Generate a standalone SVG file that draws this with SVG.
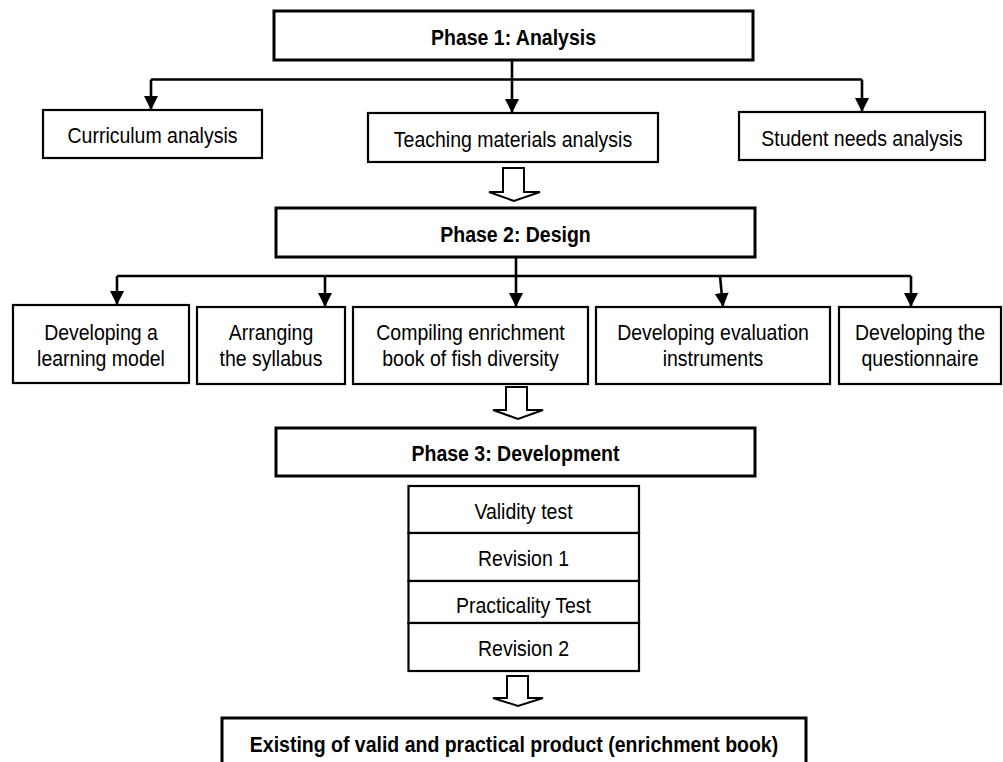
<svg xmlns="http://www.w3.org/2000/svg" width="1003" height="762" viewBox="0 0 1003 762">
<defs>
<style>
.phase{fill:#fff;stroke:#000;stroke-width:3}
.box{fill:#fff;stroke:#000;stroke-width:2.2}
.t{font-family:"Liberation Sans",Arial,sans-serif;font-size:19.5px;fill:#000;text-anchor:middle}
.b{font-weight:bold}
.line{fill:none;stroke:#000;stroke-width:2.6}
.hollow{fill:#fff;stroke:#000;stroke-width:2}
</style>
<marker id="ah" markerWidth="14" markerHeight="14" viewBox="0 0 14 14" refX="14" refY="7" orient="auto" markerUnits="userSpaceOnUse">
<path d="M0,0 L14,7 L0,14 Z" fill="#000"/>
</marker>
</defs>
<rect width="1003" height="762" fill="#fff"/>
<g id="connectors">
<path class="line" d="M512,60 V113" marker-end="url(#ah)"/>
<path class="line" d="M151,79.5 H862"/>
<path class="line" d="M151,79.5 V110" marker-end="url(#ah)"/>
<path class="line" d="M862,79.5 V112" marker-end="url(#ah)"/>
<polygon class="hollow" points="503,168 524,168 524,192 540,192 514,201 489,192 503,192"/>
<path class="line" d="M516,257 V307" marker-end="url(#ah)"/>
<path class="line" d="M117,276 H911"/>
<path class="line" d="M117,276 V305" marker-end="url(#ah)"/>
<path class="line" d="M325,276 V307" marker-end="url(#ah)"/>
<path class="line" d="M720,276 L723,307" marker-end="url(#ah)"/>
<path class="line" d="M911,276 V307" marker-end="url(#ah)"/>
<polygon class="hollow" points="506,387 527,387 527,410 543,410 518,419 493,410 506,410"/>
<polygon class="hollow" points="507,676 528,676 528,698 543,698 518,706 493,698 507,698"/>
</g>
<g id="phase1">
<rect class="phase" x="274" y="11" width="479" height="49"/>
<text class="t b" transform="translate(513.5,45) scale(1,1.12)">Phase 1: Analysis</text>
</g>
<g id="curriculum">
<rect class="box" x="43" y="110" width="219" height="48"/>
<text class="t" transform="translate(152.5,143) scale(1,1.12)">Curriculum analysis</text>
</g>
<g id="teaching">
<rect class="box" x="368" y="113" width="290" height="49"/>
<text class="t" transform="translate(513,147) scale(1,1.12)">Teaching materials analysis</text>
</g>
<g id="student">
<rect class="box" x="739" y="112" width="246" height="48"/>
<text class="t" transform="translate(862,145.5) scale(1,1.12)">Student needs analysis</text>
</g>
<g id="phase2">
<rect class="phase" x="276" y="208" width="479" height="49"/>
<text class="t b" transform="translate(515.5,241.5) scale(1,1.12)">Phase 2: Design</text>
</g>
<g id="learning-model">
<rect class="box" x="13" y="305" width="176" height="78"/>
<text class="t" transform="translate(101,339.5) scale(1,1.12)">Developing a</text>
<text class="t" transform="translate(101,366) scale(1,1.12)">learning model</text>
</g>
<g id="syllabus">
<rect class="box" x="197" y="307" width="148" height="77"/>
<text class="t" transform="translate(271,339.5) scale(1,1.12)">Arranging</text>
<text class="t" transform="translate(271,366) scale(1,1.12)">the syllabus</text>
</g>
<g id="enrichment">
<rect class="box" x="353" y="307" width="235" height="77"/>
<text class="t" transform="translate(470.5,339.5) scale(1,1.12)">Compiling enrichment</text>
<text class="t" transform="translate(470.5,366) scale(1,1.12)">book of fish diversity</text>
</g>
<g id="evaluation">
<rect class="box" x="596" y="307" width="234" height="77"/>
<text class="t" transform="translate(713,339.5) scale(1,1.12)">Developing evaluation</text>
<text class="t" transform="translate(713,366) scale(1,1.12)">instruments</text>
</g>
<g id="questionnaire">
<rect class="box" x="839" y="307" width="162" height="77"/>
<text class="t" transform="translate(920,339.5) scale(1,1.12)">Developing the</text>
<text class="t" transform="translate(920,366) scale(1,1.12)">questionnaire</text>
</g>
<g id="phase3">
<rect class="phase" x="276" y="428" width="479" height="48"/>
<text class="t b" transform="translate(515.5,461) scale(1,1.12)">Phase 3: Development</text>
</g>
<g id="validity">
<rect class="box" x="408.5" y="486" width="230.5" height="47"/>
<text class="t" transform="translate(523.5,518.5) scale(1,1.12)">Validity test</text>
</g>
<g id="revision1">
<rect class="box" x="408.5" y="533" width="230.5" height="48"/>
<text class="t" transform="translate(523.5,566) scale(1,1.12)">Revision 1</text>
</g>
<g id="practicality">
<rect class="box" x="408.5" y="581" width="230.5" height="42"/>
<text class="t" transform="translate(523.5,613) scale(1,1.12)">Practicality Test</text>
</g>
<g id="revision2">
<rect class="box" x="408.5" y="623" width="230.5" height="48"/>
<text class="t" transform="translate(523.5,656) scale(1,1.12)">Revision 2</text>
</g>
<g id="product">
<rect class="phase" x="222" y="718" width="584" height="60"/>
<text class="t b" transform="translate(514,752) scale(1,1.12)">Existing of valid and practical product (enrichment book)</text>
</g>
</svg>
